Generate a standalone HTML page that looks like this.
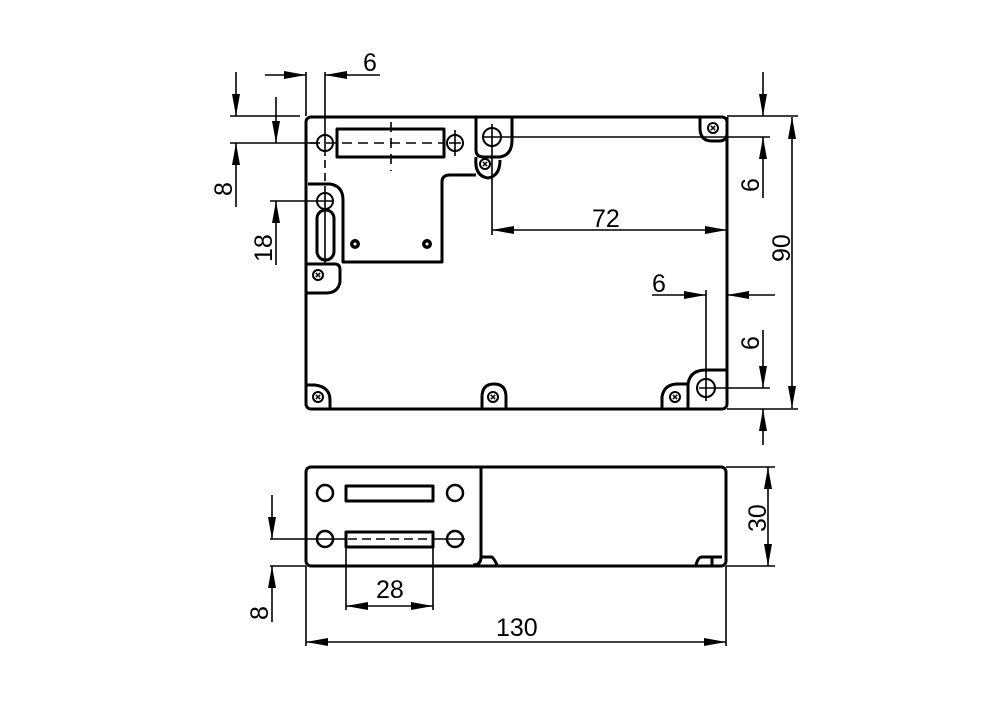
<!DOCTYPE html>
<html><head><meta charset="utf-8"><style>html,body{margin:0;background:#fff}svg{display:block}text{font-family:"Liberation Sans",sans-serif;font-size:25px;fill:#000}</style></head><body>
<svg width="1000" height="703" viewBox="0 0 1000 703" xmlns="http://www.w3.org/2000/svg">
<defs>
<marker id="a" viewBox="0 0 22 8" refX="22" refY="4" markerWidth="22" markerHeight="8" markerUnits="userSpaceOnUse" orient="auto-start-reverse"><path d="M0,0L22,4L0,8z"/></marker>
</defs>
<g fill="none" stroke="#000" stroke-width="3" stroke-linejoin="round">
<rect x="306" y="117" width="421" height="292" rx="5"/>
<path d="M308,184 H330 Q343,186 343,200 V262 H442 V182 Q442,175 450,175 H476"/>
<path d="M306,264 H335 Q340,264 340,270 V282 Q338,293 326,293 H306"/>
<path d="M476,117 V150 Q476,157 484,157 H500 Q512,155 512,140 V117"/>
<path d="M476,157 Q474,176 488,178 Q500,176 500,160"/>
<path d="M727,117 V133 Q727,141 719,141 H712 Q700,141 700,128 V117"/>
<path d="M306,385 H315 Q330,387 330,400 V409"/>
<path d="M482,409 V397 Q482,384 494,384 Q506,384 506,397 V409"/>
<path d="M662,409 V397 Q664,384 678,384 H688 Q690,370 706,370 H727"/>
<path d="M688,384 V409"/>
<rect x="337" y="129" width="107" height="28"/>
<rect x="317" y="210" width="17" height="50" rx="8.5"/>
</g>
<g fill="none" stroke="#000" stroke-width="2">
<circle cx="325" cy="143" r="8"/><circle cx="455" cy="143" r="8"/><circle cx="325" cy="201" r="8"/>
<circle cx="492" cy="137" r="9"/><circle cx="706" cy="388" r="9"/>
<circle cx="318" cy="275" r="5"/><circle cx="485" cy="164" r="5"/><circle cx="713" cy="128" r="5"/>
<circle cx="318" cy="397" r="5"/><circle cx="493" cy="397" r="5"/><circle cx="675" cy="397" r="5"/>
</g>
<g stroke="#000" stroke-width="1.5">
<path d="M315,275l6,0M318,272l0,6" transform="rotate(45 318 275)"/>
<path d="M482,164l6,0M485,161l0,6" transform="rotate(45 485 164)"/>
<path d="M710,128l6,0M713,125l0,6" transform="rotate(45 713 128)"/>
<path d="M315,397l6,0M318,394l0,6" transform="rotate(45 318 397)"/>
<path d="M490,397l6,0M493,394l0,6" transform="rotate(45 493 397)"/>
<path d="M672,397l6,0M675,394l0,6" transform="rotate(45 675 397)"/>
</g>
<circle cx="355" cy="244" r="5"/><circle cx="427" cy="244" r="5"/>
<circle cx="355" cy="244" r="1.5" fill="#fff"/><circle cx="427" cy="244" r="1.5" fill="#fff"/>
<g stroke="#000" stroke-width="1.6" fill="none">
<path d="M325,130V156M449,143H461M455,130V156M318,201H332M325,188V265M492,124V235M483,137H770M699,388H770M706,290V401"/>
<path d="M310,143H445" stroke-dasharray="10,6"/>
<path d="M391,122V171" stroke-dasharray="10,6"/>
<path d="M325,160V188" stroke-dasharray="8,5"/>
<path d="M306,72V116M325,72V130M230,116H300M230,143H318M270,201H318"/>
<path d="M265,75H306" marker-end="url(#a)"/><path d="M380,75H325" marker-end="url(#a)"/>
<path d="M236,72V116" marker-end="url(#a)"/><path d="M236,207V143" marker-end="url(#a)"/>
<path d="M276,97V143" marker-end="url(#a)"/><path d="M276,265V201" marker-end="url(#a)"/>
<path d="M492,230H727" marker-start="url(#a)" marker-end="url(#a)"/>
<path d="M727,116H798M727,409H798"/>
<path d="M763,72V116" marker-end="url(#a)"/><path d="M763,198V137" marker-end="url(#a)"/>
<path d="M792,117V408" marker-start="url(#a)" marker-end="url(#a)"/>
<path d="M652,295H706" marker-end="url(#a)"/><path d="M775,295H727" marker-end="url(#a)"/>
<path d="M763,330V388" marker-end="url(#a)"/><path d="M763,445V409" marker-end="url(#a)"/>
</g>
<text x="363" y="71">6</text>
<text transform="translate(232,196) rotate(-90)">8</text>
<text transform="translate(272,262) rotate(-90)">18</text>
<text x="592" y="227">72</text>
<text transform="translate(759,192) rotate(-90)">6</text>
<text transform="translate(790,262) rotate(-90)">90</text>
<text x="652" y="292">6</text>
<text transform="translate(759,350) rotate(-90)">6</text>
<g fill="none" stroke="#000" stroke-width="3" stroke-linejoin="round">
<rect x="306" y="467" width="420" height="99" rx="5"/>
<path d="M481,467V557Q481,565 473,565"/>
<path d="M481,557H492Q495,560 497,565M696,565Q698,557 702,557H722"/>
<path d="M712,557V565"/>
<rect x="346" y="486" width="87" height="15"/>
<rect x="346" y="532" width="87" height="15"/>
</g>
<g fill="none" stroke="#000" stroke-width="2.5">
<circle cx="325" cy="493" r="8"/><circle cx="455" cy="493" r="8"/><circle cx="325" cy="539" r="8"/><circle cx="455" cy="539" r="8"/>
</g>
<g stroke="#000" stroke-width="1.6" fill="none">
<path d="M270,539H346M433,539H465"/>
<path d="M348,539H432" stroke-dasharray="9,5"/>
<path d="M270,566H306M726,467H775M726,566H775"/>
<path d="M346,547V610M433,547V610M306,566V646M726,566V646"/>
<path d="M272,495V539" marker-end="url(#a)"/><path d="M272,622V566" marker-end="url(#a)"/>
<path d="M768,467V566" marker-start="url(#a)" marker-end="url(#a)"/>
<path d="M346,606H433" marker-start="url(#a)" marker-end="url(#a)"/>
<path d="M306,642H726" marker-start="url(#a)" marker-end="url(#a)"/>
</g>
<text transform="translate(766,532) rotate(-90)">30</text>
<text transform="translate(268,620) rotate(-90)">8</text>
<text x="376" y="598">28</text>
<text x="496" y="636">130</text>
</svg>
</body></html>
